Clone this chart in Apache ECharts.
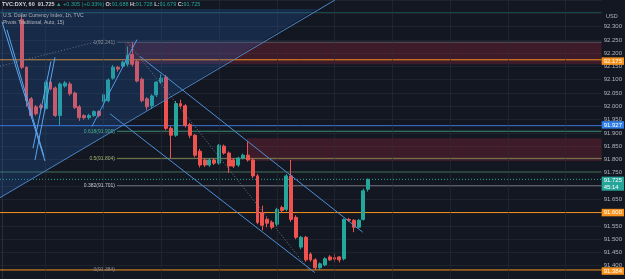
<!DOCTYPE html>
<html><head><meta charset="utf-8">
<script src="https://cdn.jsdelivr.net/npm/echarts@6/dist/echarts.min.js"></script>
<style>html,body{margin:0;padding:0;background:#131722;}#c{width:625px;height:279px;}</style>
</head><body><div id="c"></div>
<script>
// ---- data ----
const firstSlot = 4;          // slot index of the first visible candle
const slotMin = -0.5, slotMax = 124.5;
const yMin = 91.35, yMax = 92.40, yStep = 0.05;
// [open, close, low, high] hourly candles
const candles = [
 [92.326,92.147,92.140,92.344],[92.147,92.021,91.998,92.150],[92.028,91.965,91.955,92.035],
 [91.998,91.972,91.965,92.005],[92.002,91.995,91.985,92.010],[91.991,92.091,91.985,92.100],
 [92.091,92.065,92.060,92.102],[92.069,91.965,91.960,92.075],[91.965,92.084,91.928,92.090],
 [92.076,92.088,92.070,92.095],[92.084,92.047,92.040,92.092],[92.050,91.995,91.990,92.055],
 [91.998,91.957,91.945,92.005],[91.965,91.957,91.950,91.970],[91.957,91.965,91.950,91.972],
 [91.965,91.980,91.960,91.985],[91.980,91.965,91.958,91.985],[92.017,92.043,91.990,92.048],
 [92.021,92.099,92.015,92.105],[92.106,92.147,92.100,92.155],[92.147,92.140,92.130,92.152],
 [92.151,92.166,92.145,92.172],[92.158,92.192,92.150,92.225],[92.195,92.158,92.150,92.241],
 [92.169,92.095,92.090,92.175],[92.102,92.021,92.015,92.108],[92.028,91.998,91.985,92.035],
 [92.002,92.039,91.990,92.045],[92.043,92.091,92.035,92.095],[92.091,92.106,92.085,92.120],
 [92.110,91.917,91.910,92.118],[91.917,91.891,91.805,91.925],[91.891,92.010,91.885,92.020],
 [92.010,92.002,91.995,92.025],[92.002,91.928,91.920,92.008],[91.931,91.891,91.880,91.938],
 [91.891,91.816,91.808,91.895],[91.831,91.779,91.770,91.840],[91.798,91.779,91.772,91.805],
 [91.779,91.798,91.772,91.805],[91.798,91.786,91.779,91.805],[91.786,91.853,91.780,91.858],
 [91.850,91.824,91.818,91.856],[91.824,91.775,91.749,91.830],[91.798,91.775,91.768,91.805],
 [91.779,91.805,91.772,91.810],[91.805,91.816,91.800,91.822],[91.816,91.798,91.792,91.868],
 [91.798,91.738,91.730,91.805],[91.738,91.563,91.556,91.745],[91.600,91.552,91.533,91.626],
 [91.574,91.560,91.545,91.582],[91.563,91.545,91.537,91.570],[91.556,91.612,91.548,91.618],
 [91.619,91.608,91.600,91.626],[91.612,91.738,91.605,91.745],[91.738,91.574,91.565,91.798],
 [91.582,91.507,91.500,91.590],[91.470,91.507,91.462,91.512],[91.507,91.422,91.415,91.512],
 [91.444,91.422,91.415,91.450],[91.422,91.392,91.384,91.428],[91.392,91.407,91.386,91.412],
 [91.403,91.426,91.398,91.432],[91.433,91.422,91.418,91.440],[91.430,91.425,91.415,91.445],
 [91.433,91.422,91.412,91.436],[91.426,91.574,91.420,91.578],[91.574,91.571,91.565,91.580],
 [91.571,91.545,91.526,91.575],[91.545,91.571,91.540,91.576],[91.574,91.682,91.570,91.690],
 [91.688,91.725,91.679,91.728]
];
const change = '+0.305 (+0.33%)';
const countdown = '45:14';
// fib retracement [ratio, price]
const fibStartSlot = 23.8;
const fibLevels = [[1,92.241],[0.618,91.906],[0.5,91.804],[0.382,91.701],[0,91.384]];
// supply zones [startSlot, low, high]
const zones = [[25.46,92.158,92.241],[50.8,91.794,91.880]];
// horizontal levels
const topLevel = 92.353, greenLevel = 91.753, blueLevel = 91.927;
const orangeLevels = [92.175, 91.600, 91.384];
// drawings: [slot, price] pairs
const triangleFill = [[-0.5,92.3665],[65.3,92.3665],[-0.5,91.656]];
const triangleEdge = [[-0.5,91.656],[69.1,92.4]];
const vLines = [
 [[-0.08,92.318],[8.84,91.794]],
 [[0.95,92.288],[8.64,91.812]],
 [[6.77,91.798],[10.92,92.184]],
 [[6.35,91.842],[10.09,92.169]]
];
const risingLine = [[18.60,91.924],[27.95,92.251]];
const channelUpper = [[28.57,92.188],[74.87,91.526]];
const channelLower = [[22.34,91.972],[64.91,91.374]];
const fibDiagonal = [[26.08,92.240],[63.87,91.381]];
const topLeftDotted = [[-0.5,92.151],[21.30,92.251]];
const vGridSlots = [9,21,33,45,57,69,81,93,105,117];

// ---- chart ----
const FONT = 'Liberation Sans, Arial, sans-serif';
const UP = '#26a69a', DOWN = '#ef5350', ORANGE = '#f7931e', BLUE = '#2f7fe6';
const last = candles[candles.length - 1];
const chart = echarts.init(document.getElementById('c'), null, {renderer:'canvas'});

function axisTag(v, bg, text, offset){
  return {yAxis:v, lineStyle:{color:'rgba(0,0,0,0)', width:0},
    label:{show:true, position:'end', distance:0, formatter:text || v.toFixed(3), offset:offset || [0,0],
      backgroundColor:bg, color:'#fff', fontSize:6, lineHeight:6.5, fontFamily:FONT, padding:[0.5,2,0.5,2]}};
}
function seg(pts, color, type, z){
  return {type:'line', xAxisIndex:0, yAxisIndex:0, data:pts, symbol:'none', silent:true,
    animation:false, z:z||6, lineStyle:{color:color, width:1, type:type||'solid'}};
}
function hline(v, color, type){ return seg([[slotMin, v],[slotMax, v]], color, type, 2); }

const fibColors = ['rgba(120,123,134,0.6)','#3d8c72','#7b8250','#6c6f79',null];
const fibLabelColors = ['#8a8d96','#4db38e','#9fb36a','#c8cad0','#8a8d96'];

const gridMarkLines = vGridSlots.map(s => ({xAxis:s, lineStyle:{color:'rgba(42,46,57,0.55)', width:1, type:'solid'}, label:{show:false}}));
const fibLines = fibLevels.filter((f,i) => fibColors[i]).map((f,i) => seg([[fibStartSlot, f[1]],[slotMax, f[1]]], fibColors[i], 'solid', 2));
const labelMarks = fibLevels.map((f,i) => [
  {coord:[fibStartSlot, f[1]], lineStyle:{color:'rgba(0,0,0,0)', width:0},
   label:{show:true, position:'start', distance:2, formatter:f[0] + '(' + f[1].toFixed(3) + ')',
     color:fibLabelColors[i], fontSize:5, fontFamily:FONT}},
  {coord:[slotMax, f[1]]}
]);
labelMarks.push(axisTag(blueLevel, BLUE));
orangeLevels.forEach(v => labelMarks.push(axisTag(v, ORANGE)));
labelMarks.push(axisTag(last[1], UP, last[1].toFixed(3) + '\n' + countdown, [0,3]));

const series = [
  {type:'line', name:'zones', data:[[slotMin, yMin]], symbol:'none', silent:true, animation:false, z:0,
   lineStyle:{opacity:0},
   markArea:{silent:true, itemStyle:{color:'rgba(178,40,60,0.27)'},
     data: zones.map(zn => [{coord:[zn[0], zn[2]]},{coord:[slotMax, zn[1]]}])},
   markLine:{silent:true, symbol:['none','none'], animation:false, data:gridMarkLines}},
  hline(topLevel, 'rgba(38,166,154,0.35)'),
  hline(greenLevel, 'rgba(86,160,110,0.6)'),
  hline(blueLevel, '#3f74d8'),
  hline(last[1], UP, [1,2])
].concat(orangeLevels.map(v => hline(v, ORANGE)))
 .concat(fibLines)
 .concat([
  {type:'candlestick', data:candles.map((c,i) => [firstSlot + i, c[0], c[1], c[2], c[3]]),
   dimensions:['slot','open','close','lowest','highest'],
   encode:{x:'slot', y:['open','close','lowest','highest']},
   barWidth:3.4, z:3, animation:false, silent:true,
   itemStyle:{color:UP, color0:DOWN, borderColor:UP, borderColor0:DOWN, borderWidth:1}},
  {type:'line', name:'labels', data:[[slotMin, yMin]], symbol:'none', silent:true, animation:false, z:8,
   lineStyle:{opacity:0},
   markLine:{silent:true, symbol:['none','none'], animation:false, data:labelMarks}},
  {type:'custom', data:[[0, 92]], z:5, silent:true, animation:false, clip:true,
   renderItem:(params, api) => ({type:'polygon', shape:{points:triangleFill.map(p => api.coord(p))},
     style:{fill:'rgba(41,120,220,0.2)'}})},
  seg(triangleEdge, '#4b86c9'),
  seg(topLeftDotted, 'rgba(140,150,170,0.7)', [1,2]),
  seg(fibDiagonal, 'rgba(140,145,160,0.8)', [1,2]),
  seg(risingLine, '#4d9be8'),
  seg(channelUpper, '#4d8fd6'),
  seg(channelLower, '#4d8fd6')
 ]).concat(vLines.map(v => seg(v, '#5aa6f0')));

chart.setOption({
  backgroundColor:'#131722',
  animation:false,
  grid:{left:0, right:23, top:0, bottom:-3.4, containLabel:false},
  xAxis:{type:'value', min:slotMin, max:slotMax, show:false},
  yAxis:{type:'value', position:'right', min:yMin, max:yMax, interval:yStep, scale:true,
    axisLine:{show:true, lineStyle:{color:'#2a2e39'}}, axisTick:{show:false},
    splitLine:{lineStyle:{color:'rgba(42,46,57,0.55)', width:1}},
    axisLabel:{margin:2, fontSize:6, color:'#b2b5be', fontFamily:FONT,
      formatter:v => (v > 92.32 || v < 91.37) ? '' : v.toFixed(3)}},
  series: series,
  graphic:[
    {type:'text', left:2, top:1, z:100, silent:true, style:{
      text:'{w|TVC:DXY, 60  ' + last[1].toFixed(3) + '} {g|▲ ' + change + '} {w|O:}{g|' + last[0].toFixed(3) +
        '} {w|H:}{g|' + last[3].toFixed(3) + '} {w|L:}{g|' + last[2].toFixed(3) + '} {w|C:}{g|' + last[1].toFixed(3) + '}',
      font:'5.5px ' + FONT,
      rich:{w:{fill:'#d1d4dc', fontSize:5.5, fontFamily:FONT, fontWeight:'bold'},
            g:{fill:UP, fontSize:5.5, fontFamily:FONT}}}},
    {type:'text', left:3, top:13, z:100, silent:true, style:{text:'U.S. Dollar Currency Index, 1h, TVC', fill:'#b2b5be', font:'5px ' + FONT}},
    {type:'text', left:3, top:20.5, z:100, silent:true, style:{text:'Pivots Traditional, Auto, 15)', fill:'#b2b5be', font:'5px ' + FONT}},
    {type:'text', left:606, top:13, z:100, silent:true, style:{text:'USD', fill:'#b2b5be', font:'5.5px ' + FONT}}
  ]
});
</script></body></html>
